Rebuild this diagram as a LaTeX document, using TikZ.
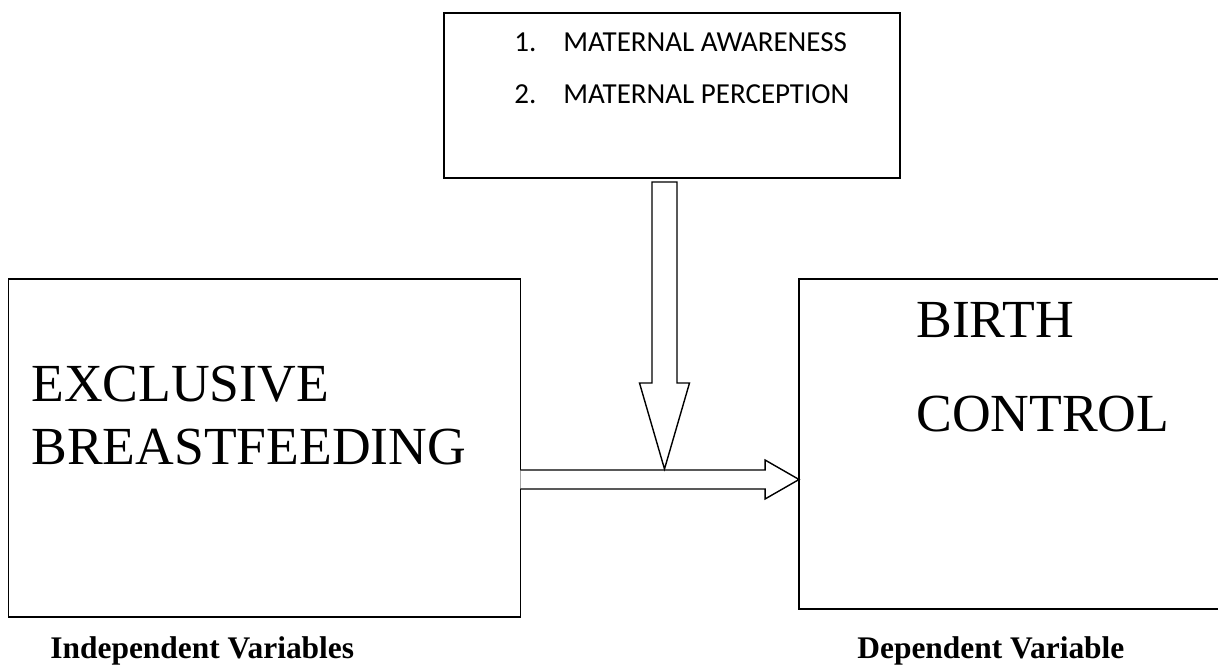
\documentclass[tikz,border=0pt]{standalone}
\usepackage{fontspec}
\setmainfont{Liberation Serif}
\newfontfamily\calibrifont{Carlito}
\usepackage{tikz}
\usetikzlibrary{calc}

\tikzset{
	box/.style={draw,rectangle,line width=0.8pt,inner sep=0pt,outer sep=0pt},
	bigtext/.style={anchor=base west,inner sep=0pt,font=\fontsize{30.5}{36}\selectfont},
	listtext/.style={anchor=base west,inner sep=0pt,font=\calibrifont\fontsize{16.5}{20}\selectfont},
	labeltext/.style={anchor=base west,inner sep=0pt,font=\bfseries\fontsize{17.9}{21}\selectfont},
	blockarrow/.style={draw,line width=0.8pt,line join=miter,fill=white}
}

\begin{document}
\begin{tikzpicture}[x=0.02cm,y=-0.02cm]
		\useasboundingbox (0,0) rectangle (1218,665);
		\clip (0,0) rectangle (1218,665);
		%\node[draw,options] (nodeName) at (x,y) {text};
		\node[box,minimum width=9.12cm,minimum height=3.3cm] (Moderators) at (672,95.5) {};
		\node[box,minimum width=10.24cm,minimum height=6.76cm] (Exclusive) at (264.5,448) {};
		\node[box,minimum width=8.82cm,minimum height=6.6cm] (Birth) at (1019.5,444) {};
		% texts
		\node[listtext] (NumOne) at (514,52) {1.};
		\node[listtext] (Awareness) at (563,52) {MATERNAL AWARENESS};
		\node[listtext] (NumTwo) at (514,104) {2.};
		\node[listtext] (Perception) at (563,104) {MATERNAL PERCEPTION};
		\node[bigtext] (ExclOne) at (31,402) {EXCLUSIVE};
		\node[bigtext] (ExclTwo) at (31,465) {BREASTFEEDING};
		\node[bigtext] (BirthOne) at (916,337.7) {BIRTH};
		\node[bigtext] (BirthTwo) at (916,431.7) {CONTROL};
		\node[labeltext] (Indep) at (50,659) {Independent Variables};
		\node[labeltext] (Dep) at (857,659) {Dependent Variable};
		% arrows
		\coordinate (hlev) at (0,479.5);
		\coordinate (vlev) at (664.5,182);
		\coordinate (hS) at (Exclusive.east |- hlev);
		\coordinate (hT) at (Birth.west |- hlev);
		\coordinate (vS) at (vlev);
		\coordinate (vT) at ($(vlev |- hlev)+(0,-10.5)$);
		\draw[blockarrow] ($(hS)+(0,-9.5)$) -- ($(hT)+(-34,-9.5)$) -- ($(hT)+(-34,-19.5)$) -- (hT) -- ($(hT)+(-34,19.5)$) -- ($(hT)+(-34,9.5)$) -- ($(hS)+(0,9.5)$);
		\draw[blockarrow] ($(vS)+(-12.5,0)$) -- ($(vT)+(-12.5,-86)$) -- ($(vT)+(-25,-86)$) -- (vT) -- ($(vT)+(25,-86)$) -- ($(vT)+(12.5,-86)$) -- ($(vS)+(12.5,0)$) -- cycle;
	\end{tikzpicture}
\end{document}
